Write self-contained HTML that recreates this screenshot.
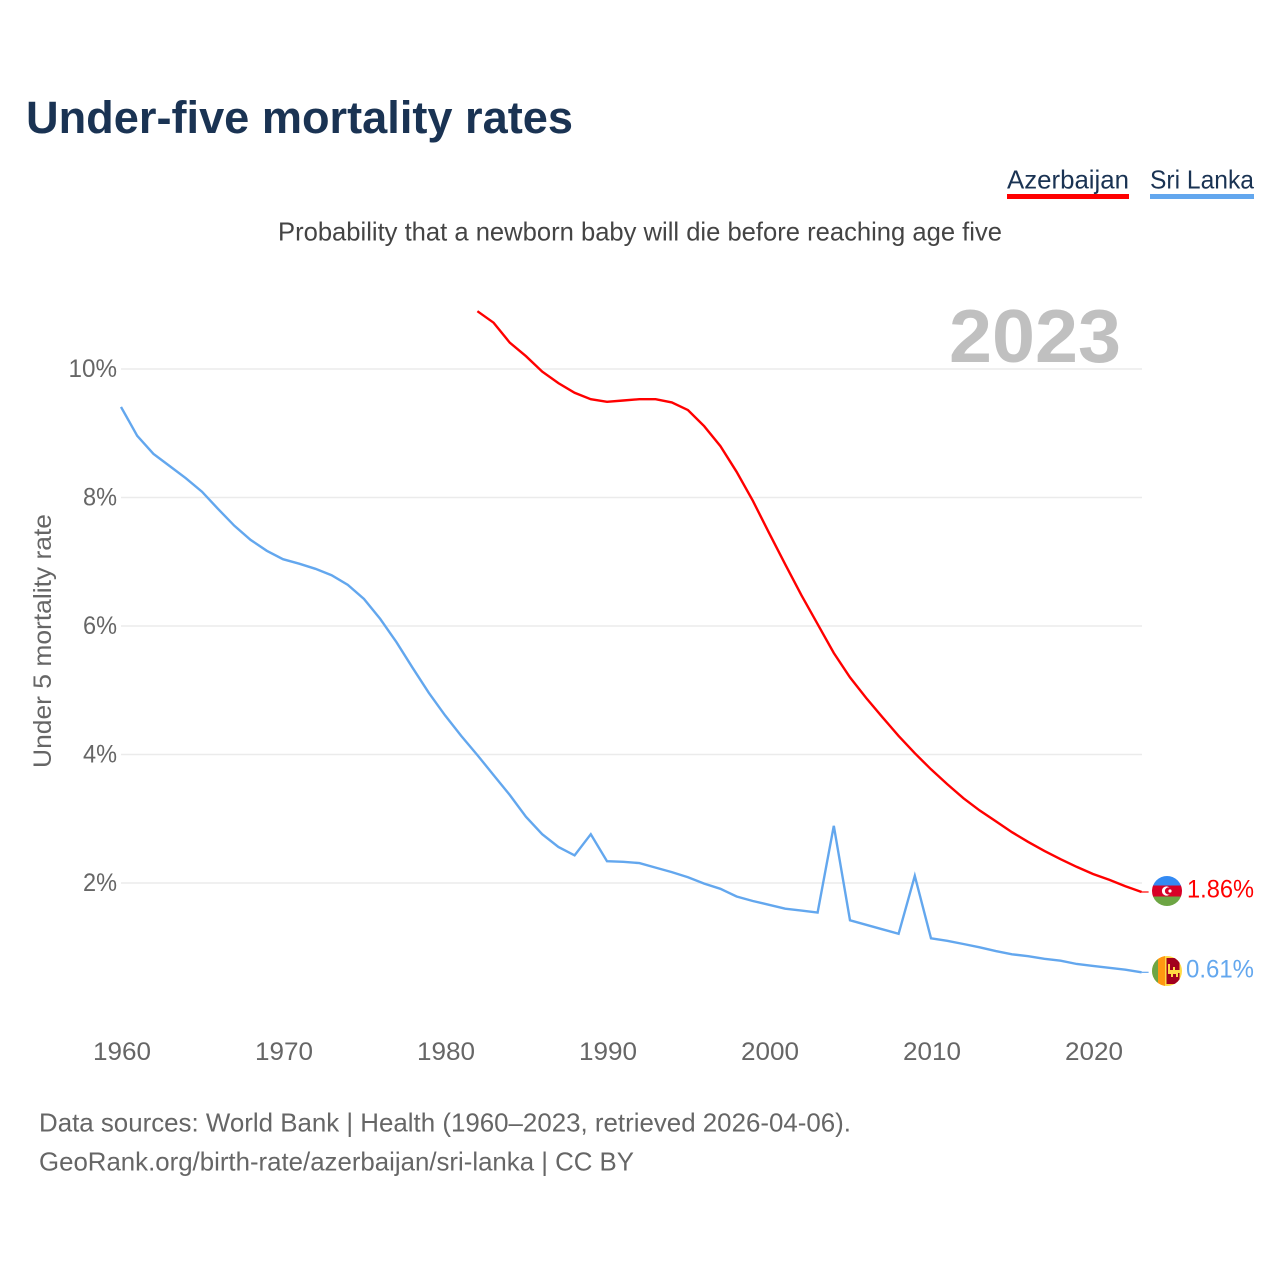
<!DOCTYPE html>
<html lang="en">
<head>
<meta charset="utf-8">
<title>Under-five mortality rates</title>
<style>
html,body{margin:0;padding:0;background:#fff;}
svg{display:block;font-family:"Liberation Sans",sans-serif;}
</style>
</head>
<body>
<svg id="chart" xmlns="http://www.w3.org/2000/svg" width="1280" height="1280" viewBox="0 0 1280 1280">
  <rect width="1280" height="1280" fill="#fff"/>
  <text x="26" y="133" font-size="45" font-weight="700" fill="#1a3353" textLength="547" lengthAdjust="spacingAndGlyphs">Under-five mortality rates</text>
  <g>
    <text x="1007" y="188.5" font-size="26" fill="#1a3353" textLength="122" lengthAdjust="spacingAndGlyphs">Azerbaijan</text>
    <rect x="1007" y="194" width="122" height="5" fill="#ff0000"/>
  </g>
  <g>
    <text x="1150" y="188.5" font-size="26" fill="#1a3353" textLength="104" lengthAdjust="spacingAndGlyphs">Sri Lanka</text>
    <rect x="1150" y="194" width="104" height="5" fill="#63a7ee"/>
  </g>
  <text x="278" y="240.5" font-size="26" fill="#444" textLength="724" lengthAdjust="spacingAndGlyphs">Probability that a newborn baby will die before reaching age five</text>
  <text transform="translate(51,768) rotate(-90)" font-size="25" fill="#666" textLength="254" lengthAdjust="spacingAndGlyphs">Under 5 mortality rate</text>
  <g id="grid"></g>
  <g id="yticks"></g>
  <g id="xticks"></g>
  <text x="949" y="362" font-size="75" font-weight="700" fill="#c0c0c0" textLength="172" lengthAdjust="spacingAndGlyphs">2023</text>
  <g id="series"></g>
  <defs>
    <clipPath id="clip-az"><circle cx="1167" cy="891" r="15"/></clipPath>
    <clipPath id="clip-lk"><circle cx="1167" cy="971" r="15"/></clipPath>
  </defs>
  <g clip-path="url(#clip-az)">
    <rect x="1152" y="876" width="30" height="9.5" fill="#338af3"/>
    <rect x="1152" y="885.5" width="30" height="11" fill="#d80027"/>
    <rect x="1152" y="896.5" width="30" height="10" fill="#6da544"/>
    <circle cx="1166.5" cy="891" r="4.6" fill="#fff"/>
    <circle cx="1168.5" cy="891" r="3.6" fill="#d80027"/>
    <circle cx="1170" cy="891" r="1.6" fill="#fff"/>
  </g>
  <g clip-path="url(#clip-lk)">
    <rect x="1152" y="956" width="30" height="30" fill="#ffda44"/>
    <rect x="1152" y="956" width="6" height="30" fill="#6da544"/>
    <rect x="1158" y="956" width="7" height="30" fill="#ff9811"/>
    <rect x="1166.5" y="958" width="13" height="26" fill="#a2001d"/>
    <path d="M1168 964h2v6h3v-3h2v3h6v3h-3v4h-2v-3h-3v3h-2v-3h-3z" fill="#ffda44"/>
  </g>
  <text x="1187" y="897.5" font-size="25" fill="#ff0000" textLength="67" lengthAdjust="spacingAndGlyphs">1.86%</text>
  <text x="1186" y="977.5" font-size="25" fill="#63a7ee" textLength="68" lengthAdjust="spacingAndGlyphs">0.61%</text>
  <text x="39" y="1131.5" font-size="26" fill="#666" textLength="812" lengthAdjust="spacingAndGlyphs">Data sources: World Bank | Health (1960–2023, retrieved 2026-04-06).</text>
  <text x="39" y="1170.5" font-size="26" fill="#666" textLength="595" lengthAdjust="spacingAndGlyphs">GeoRank.org/birth-rate/azerbaijan/sri-lanka | CC BY</text>
</svg>
<script>
const azStartYear = 1982;
const azValues = [10.90,10.72,10.41,10.20,9.96,9.78,9.63,9.53,9.49,9.51,9.53,9.53,9.48,9.36,9.11,8.80,8.40,7.95,7.45,6.96,6.48,6.03,5.58,5.20,4.88,4.58,4.29,4.02,3.77,3.54,3.32,3.13,2.96,2.79,2.64,2.50,2.37,2.25,2.14,2.05,1.95,1.86];
const lkStartYear = 1960;
const lkValues = [9.41,8.96,8.68,8.49,8.30,8.09,7.82,7.56,7.34,7.17,7.04,6.97,6.89,6.79,6.64,6.42,6.11,5.75,5.35,4.96,4.61,4.29,3.99,3.68,3.37,3.03,2.76,2.56,2.43,2.76,2.34,2.33,2.31,2.24,2.17,2.09,1.99,1.91,1.79,1.72,1.66,1.60,1.57,1.54,2.89,1.42,1.35,1.28,1.21,2.11,1.14,1.10,1.05,1.00,0.94,0.89,0.86,0.82,0.79,0.74,0.71,0.68,0.65,0.61];
const yTickValues = [2,4,6,8,10];
const xTickYears = [1960,1970,1980,1990,2000,2010,2020];

const NS = 'http://www.w3.org/2000/svg';
const xScale = function (year) { return 121 + (year - 1960) * 16.2; };
const yScale = function (v) { return 1011.5 - v * 64.25; };
const xEnd = xScale(2023);

function make(tag, attrs, parent) {
  const el = document.createElementNS(NS, tag);
  Object.keys(attrs).forEach(function (k) { el.setAttribute(k, attrs[k]); });
  parent.appendChild(el);
  return el;
}

const grid = document.getElementById('grid');
const yticks = document.getElementById('yticks');
yTickValues.forEach(function (v) {
  const line = make('line', {x1: 121, x2: 1142, y1: yScale(v), y2: yScale(v), stroke: '#ebebeb', 'stroke-width': 1.5}, grid);
  
  
  const label = v + '%';
  const t = make('text', {x: 117, y: yScale(v) + 8, 'text-anchor': 'end', 'font-size': 25, fill: '#666', textLength: (label.length - 1) * 14.5 + 19.5, lengthAdjust: 'spacingAndGlyphs'}, yticks);
  t.textContent = label;
  
  
});

const xticks = document.getElementById('xticks');
xTickYears.forEach(function (year) {
  const t = make('text', {x: xScale(year) + 1, y: 1060, 'text-anchor': 'middle', 'font-size': 25, fill: '#666', textLength: 58, lengthAdjust: 'spacingAndGlyphs'}, xticks);
  t.textContent = String(year);
  
  
});

const seriesGroup = document.getElementById('series');
function drawSeries(startYear, values, color) {
  const pts = values.map(function (v, i) {
    return xScale(startYear + i).toFixed(1) + ',' + yScale(v).toFixed(1);
  });
  const lastY = yScale(values[values.length - 1]);
  const connector = make('line', {x1: xEnd, x2: xEnd + 7, y1: lastY, y2: lastY, stroke: color, 'stroke-width': 1.2}, seriesGroup);
  
  
  const line = make('polyline', {points: pts.join(' '), fill: 'none', stroke: color, 'stroke-width': 2.4, 'stroke-linejoin': 'miter'}, seriesGroup);
  
  
}
drawSeries(azStartYear, azValues, '#ff0000');
drawSeries(lkStartYear, lkValues, '#63a7ee');
</script>
</body>
</html>
